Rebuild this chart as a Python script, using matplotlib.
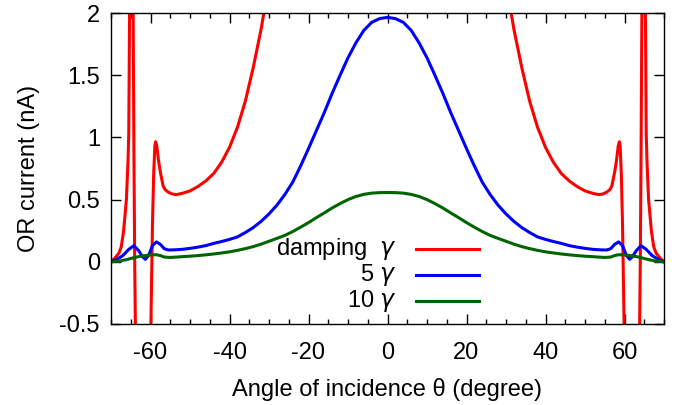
import matplotlib
matplotlib.use('Agg')
import matplotlib.pyplot as plt
import numpy as np

# left half of the curves (angle <= 0), the chart is symmetric about 0
red_angle = [-70, -69, -68, -67.4, -66.8, -66.1, -65.7, -65.5, -65.3, -65.0, -64.7,
             -64.4, -64.2, -64.0, -63.8, -63.5, -63, -62, -61, -60.3, -60.0, -59.8,
             -59.5, -59.2, -58.9, -58.7, -58.4, -58, -57.5, -57, -56.8, -56.3, -55.5,
             -54.5, -53.5, -52, -50, -48, -46, -44, -42, -40, -38, -36, -34, -32,
             -30.5, -29]
red_current = [0.0, 0.03, 0.07, 0.12, 0.25, 0.50, 0.80, 1.03, 2.0, 3.5, 3.0,
               2.0, 0.9, 0.0, -0.6, -1.5, -2.5, -3.0, -2.5, -1.5, -0.7, -0.3,
               0.3, 0.7, 0.93, 0.965, 0.93, 0.82, 0.72, 0.64, 0.61, 0.58, 0.56,
               0.545, 0.54, 0.55, 0.57, 0.605, 0.65, 0.71, 0.80, 0.92, 1.08, 1.29,
               1.56, 1.87, 2.15, 2.5]

blue_angle = [-70, -68.5, -67, -65.5, -64.2, -63, -62, -61.3, -60.5, -59.5, -58.5,
              -57.5, -56.5, -55.5, -54, -52, -50, -48, -46, -44, -42, -40, -38, -36,
              -34, -32, -30, -28, -26, -24, -22, -20, -18, -16, -14, -12, -10, -8,
              -6, -4, -2]
blue_current = [0.0, 0.02, 0.05, 0.10, 0.13, 0.09, 0.04, 0.02, 0.05, 0.13, 0.16,
                0.14, 0.105, 0.095, 0.096, 0.10, 0.108, 0.118, 0.13, 0.148, 0.163,
                0.18, 0.20, 0.235, 0.275, 0.325, 0.385, 0.455, 0.54, 0.64, 0.77,
                0.91, 1.055, 1.20, 1.355, 1.50, 1.64, 1.76, 1.86, 1.925, 1.955]
blue_peak = 1.965

green_angle = [-70, -68, -66, -64, -62, -60, -58.5, -57.5, -56.5, -55, -52.5, -50,
               -48, -46, -44, -42, -40, -38, -36, -34, -32, -30, -28, -26, -24,
               -22, -20, -18, -16, -14, -12, -10, -8, -6, -4, -2]
green_current = [0.0, 0.005, 0.018, 0.035, 0.048, 0.055, 0.057, 0.05, 0.038, 0.035,
                 0.04, 0.045, 0.05, 0.056, 0.063, 0.071, 0.08, 0.092, 0.106, 0.122,
                 0.142, 0.165, 0.188, 0.212, 0.243, 0.278, 0.315, 0.355, 0.393,
                 0.433, 0.468, 0.50, 0.525, 0.542, 0.552, 0.556]
green_peak = 0.557

labels = ['damping  $\\gamma$', '5 $\\gamma$', '10 $\\gamma$']
colors = ['#ff0000', '#0000ff', '#006400']


def mirror(angle, current, center):
    # add the center value and the mirrored right half
    a = np.array(angle, dtype=float)
    c = np.array(current, dtype=float)
    x = np.concatenate([a, [0.0], -a[::-1]])
    y = np.concatenate([c, [center], c[::-1]])
    return x, y


plt.rcParams['font.family'] = ['Liberation Sans', 'DejaVu Sans']
plt.rcParams['mathtext.fontset'] = 'custom'
plt.rcParams['mathtext.it'] = 'DejaVu Sans:italic'
plt.rcParams['axes.unicode_minus'] = False
plt.rcParams['font.size'] = 17

fig = plt.figure(figsize=(6.9, 4.05), dpi=100)
ax = fig.add_axes([111 / 690, 1 - 324 / 405, 553 / 690, 311 / 405])

series = [mirror(red_angle, red_current, np.nan),
          mirror(blue_angle, blue_current, blue_peak),
          mirror(green_angle, green_current, green_peak)]
for (x, y), col in zip(series, colors):
    ax.plot(x, y, color=col, lw=2.2, solid_joinstyle='round')

ax.set_xlim(-70, 70)
ax.set_ylim(-0.5, 2)
ax.set_xticks(np.arange(-60, 61, 20))
ax.set_xticks(np.arange(-70, 71, 5), minor=True)
yt = np.arange(-0.5, 2.01, 0.5)
ax.set_yticks(yt)
ax.set_yticklabels(['%g' % v for v in yt])
ax.tick_params(which='both', direction='in', top=True, right=True, width=1)
ax.tick_params(which='major', length=7)
ax.tick_params(which='minor', length=3.5)
ax.tick_params(axis='x', which='both', pad=13)
ax.tick_params(axis='y', pad=8)
for s in ax.spines.values():
    s.set_linewidth(1)

ax.set_xlabel('Angle of incidence θ (degree)', labelpad=10)
ax.set_ylabel('OR current (nA)', labelpad=14)

# key, text right-aligned with the line sample after it
rows = [0.241, 0.158, 0.074]
for lab, col, yy in zip(labels, colors, rows):
    ax.text(0.517, yy, lab, transform=ax.transAxes, ha='right', va='center')
    ax.plot([0.552, 0.665], [yy, yy], transform=ax.transAxes, color=col, lw=2.2)

fig.savefig('out.png', dpi=100)
